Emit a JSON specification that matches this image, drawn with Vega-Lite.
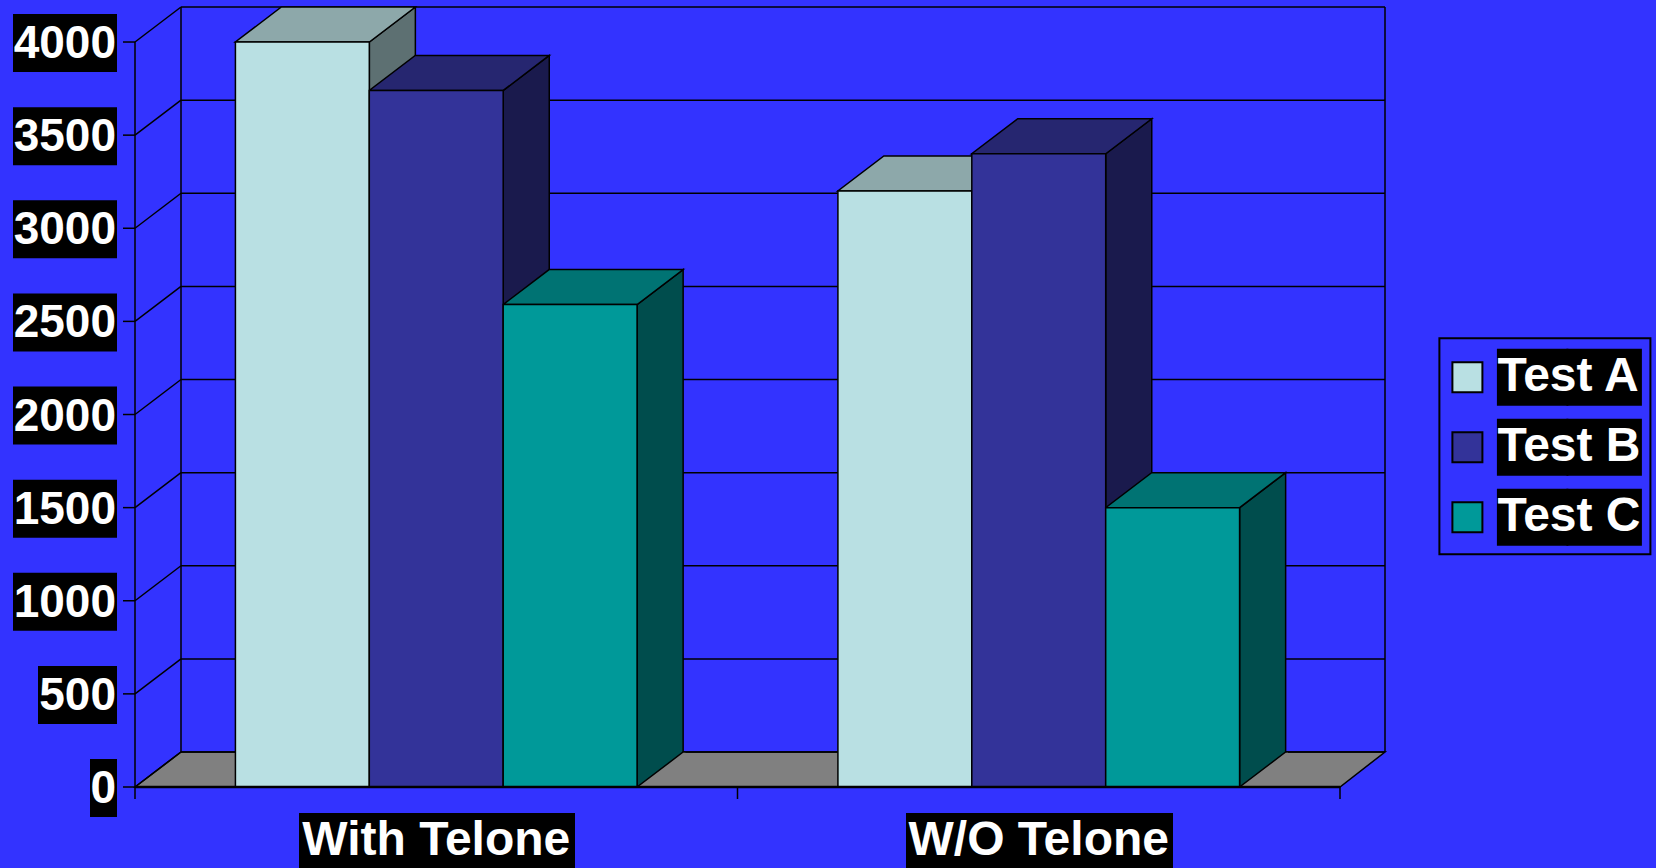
{
"$schema":"https://vega.github.io/schema/vega-lite/v6.json",
"background":"#3333FF",
"autosize":"none",
"padding":{"left":135,"top":7,"right":271,"bottom":81},
"width":1250,"height":780,
"config":{"view":{"stroke":null},"font":"Liberation Sans","legend":{"strokeWidth":2}},
"datasets":{
 "bars":[
  {"group":"With Telone","test":"Test A","value":4000},
  {"group":"With Telone","test":"Test B","value":3740},
  {"group":"With Telone","test":"Test C","value":2590},
  {"group":"W/O Telone","test":"Test A","value":3200},
  {"group":"W/O Telone","test":"Test B","value":3400},
  {"group":"W/O Telone","test":"Test C","value":1500}
 ],
 "ticks":[{"v":0},{"v":500},{"v":1000},{"v":1500},{"v":2000},{"v":2500},{"v":3000},{"v":3500},{"v":4000}]
},
"layer":[
 {"data":{"name":"ticks"},"transform":[{"filter":"datum.v == 0"}],
  "mark":{"type":"point","shape":"M0,0L46,-35L1250,-35L1205,0Z","size":4,"filled":true,"fill":"#808080","stroke":"black","strokeWidth":1.5,"opacity":1},
  "encoding":{
   "x":{"datum":"With Telone","bandPosition":0,"scale":{"domain":["With Telone","W/O Telone"],"range":[0,1205],"paddingInner":0,"paddingOuter":0},"axis":null},
   "y":{"field":"v","type":"quantitative","scale":{"domain":[0,4188],"nice":false,"zero":false},"axis":null}}},
 {"data":{"name":"ticks"},
  "mark":{"type":"rule","color":"black","strokeWidth":1.5,"xOffset":46,"x2Offset":45,"yOffset":-35},
  "encoding":{
   "x":{"datum":"With Telone","bandPosition":0,"scale":{"domain":["With Telone","W/O Telone"],"range":[0,1205],"paddingInner":0,"paddingOuter":0},"axis":null},
   "x2":{"datum":"W/O Telone","bandPosition":1},
   "y":{"field":"v","type":"quantitative","scale":{"domain":[0,4188],"nice":false,"zero":false},"axis":null}}},
 {"data":{"name":"ticks"},
  "mark":{"type":"rule","color":"black","strokeWidth":1.5,"x2Offset":46,"y2Offset":-35},
  "encoding":{
   "x":{"datum":"With Telone","bandPosition":0,"scale":{"domain":["With Telone","W/O Telone"],"range":[0,1205],"paddingInner":0,"paddingOuter":0},"axis":null},
   "x2":{"datum":"With Telone","bandPosition":0},
   "y":{"field":"v","type":"quantitative","scale":{"domain":[0,4188],"nice":false,"zero":false},"axis":null},
   "y2":{"field":"v"}}},
 {"data":{"name":"ticks"},"transform":[{"filter":"datum.v == 0"}],
  "mark":{"type":"rule","color":"black","strokeWidth":1.5,"xOffset":46,"yOffset":-35,"y2Offset":-35},
  "encoding":{
   "x":{"datum":"With Telone","bandPosition":0,"scale":{"domain":["With Telone","W/O Telone"],"range":[0,1205],"paddingInner":0,"paddingOuter":0},"axis":null},
   "y":{"field":"v","type":"quantitative","scale":{"domain":[0,4188],"nice":false,"zero":false},"axis":null},
   "y2":{"datum":4000}}},
 {"data":{"name":"ticks"},"transform":[{"filter":"datum.v == 0"}],
  "mark":{"type":"rule","color":"black","strokeWidth":1.5,"xOffset":45,"yOffset":-35,"y2Offset":-35},
  "encoding":{
   "x":{"datum":"W/O Telone","bandPosition":1,"scale":{"domain":["With Telone","W/O Telone"],"range":[0,1205],"paddingInner":0,"paddingOuter":0},"axis":null},
   "y":{"field":"v","type":"quantitative","scale":{"domain":[0,4188],"nice":false,"zero":false},"axis":null},
   "y2":{"datum":4000}}},
 {"data":{"name":"ticks"},"transform":[{"filter":"datum.v == 0"}],
  "mark":{"type":"rule","color":"black","strokeWidth":1.5},
  "encoding":{
   "x":{"datum":"With Telone","bandPosition":0,"scale":{"domain":["With Telone","W/O Telone"],"range":[0,1205],"paddingInner":0,"paddingOuter":0},"axis":null},
   "y":{"field":"v","type":"quantitative","scale":{"domain":[0,4188],"nice":false,"zero":false},"axis":null},
   "y2":{"datum":4000}}},
 {"data":{"name":"ticks"},
  "mark":{"type":"rule","color":"black","strokeWidth":1.5,"xOffset":-12},
  "encoding":{
   "x":{"datum":"With Telone","bandPosition":0,"scale":{"domain":["With Telone","W/O Telone"],"range":[0,1205],"paddingInner":0,"paddingOuter":0},"axis":null},
   "x2":{"datum":"With Telone","bandPosition":0},
   "y":{"field":"v","type":"quantitative","scale":{"domain":[0,4188],"nice":false,"zero":false},"axis":null}}},
 {"data":{"name":"bars"},
  "mark":{"type":"point","shape":"M67,0L113,-35L113,900L67,900Z","size":4,"filled":true,"stroke":"black","strokeWidth":1.5,"opacity":1,"clip":true},
  "encoding":{
   "x":{"field":"group","type":"nominal","scale":{"domain":["With Telone","W/O Telone"],"range":[0,1205],"paddingInner":0,"paddingOuter":0},"axis":null},
   "xOffset":{"field":"test","type":"nominal","scale":{"domain":["Test A","Test B","Test C"],"paddingInner":0,"paddingOuter":0.75}},
   "y":{"field":"value","type":"quantitative","scale":{"domain":[0,4188],"nice":false,"zero":false},"axis":null},
   "fill":{"field":"test","type":"nominal","scale":{"domain":["Test A","Test B","Test C"],"range":["#5D7072","#1A1A4D","#004D4D"]},"legend":null}}},
 {"data":{"name":"bars"},
  "mark":{"type":"point","shape":"M115,0L67,0L113,-35L115,-35","size":4,"filled":true,"fill":"#808080","stroke":"black","strokeWidth":1.5,"opacity":1},
  "encoding":{
   "x":{"field":"group","type":"nominal","scale":{"domain":["With Telone","W/O Telone"],"range":[0,1205],"paddingInner":0,"paddingOuter":0},"axis":null},
   "xOffset":{"field":"test","type":"nominal","scale":{"domain":["Test A","Test B","Test C"],"paddingInner":0,"paddingOuter":0.75}},
   "y":{"datum":0,"scale":{"domain":[0,4188],"nice":false,"zero":false},"axis":null}}},
 {"data":{"name":"bars"},
  "mark":{"type":"point","shape":"M-67,0L67,0L113,-35L-21,-35Z","size":4,"filled":true,"stroke":"black","strokeWidth":1.5,"opacity":1},
  "encoding":{
   "x":{"field":"group","type":"nominal","scale":{"domain":["With Telone","W/O Telone"],"range":[0,1205],"paddingInner":0,"paddingOuter":0},"axis":null},
   "xOffset":{"field":"test","type":"nominal","scale":{"domain":["Test A","Test B","Test C"],"paddingInner":0,"paddingOuter":0.75}},
   "y":{"field":"value","type":"quantitative","scale":{"domain":[0,4188],"nice":false,"zero":false},"axis":null},
   "fill":{"field":"test","type":"nominal","scale":{"domain":["Test A","Test B","Test C"],"range":["#8DA8AA","#262670","#007373"]},"legend":null}}},
 {"data":{"name":"bars"},
  "mark":{"type":"bar","stroke":"black","strokeWidth":1.5},
  "encoding":{
   "x":{"field":"group","type":"nominal","scale":{"domain":["With Telone","W/O Telone"],"range":[0,1205],"paddingInner":0,"paddingOuter":0},"axis":null},
   "xOffset":{"field":"test","type":"nominal","scale":{"domain":["Test A","Test B","Test C"],"paddingInner":0,"paddingOuter":0.75}},
   "y":{"field":"value","type":"quantitative","scale":{"domain":[0,4188],"nice":false,"zero":false},"axis":null},
   "color":{"field":"test","type":"nominal","scale":{"range":["#B9E0E3","#333399","#009999"]},
    "legend":{"orient":"none","legendX":1304.4,"legendY":331.3,"title":" ","titleFontSize":11,"titlePadding":0,"padding":4,"strokeColor":null,"symbolType":"M-1,-1H1V1H-1ZM6.667,-1.9V1.9","symbolSize":900,"symbolStrokeColor":"black","symbolStrokeWidth":2,"symbolOpacity":1,"labelExpr":"''","labelFont":"Liberation Sans","labelFontSize":48,"labelFontWeight":"bold","labelColor":"white","labelOffset":6,"rowPadding":4,"labelLimit":400}}}},
 {"data":{"name":"ticks"},"transform":[{"filter":"datum.v == 0"}],
  "mark":{"type":"rule","color":"black","strokeWidth":2.5},
  "encoding":{
   "x":{"datum":"With Telone","bandPosition":0,"scale":{"domain":["With Telone","W/O Telone"],"range":[0,1205],"paddingInner":0,"paddingOuter":0},"axis":null},
   "x2":{"datum":"W/O Telone","bandPosition":1},
   "y":{"field":"v","type":"quantitative","scale":{"domain":[0,4188],"nice":false,"zero":false},"axis":null}}},
 {"data":{"name":"bars"},"transform":[{"filter":"datum.test == 'Test A'"}],
  "mark":{"type":"rule","color":"black","strokeWidth":1.5,"y2Offset":12},
  "encoding":{
   "x":{"field":"group","type":"nominal","bandPosition":0,"scale":{"domain":["With Telone","W/O Telone"],"range":[0,1205],"paddingInner":0,"paddingOuter":0},"axis":null},
   "y":{"datum":0,"scale":{"domain":[0,4188],"nice":false,"zero":false},"axis":null},
   "y2":{"datum":0}}},
 {"data":{"name":"ticks"},"transform":[{"filter":"datum.v == 0"}],
  "mark":{"type":"rule","color":"black","strokeWidth":1.5,"y2Offset":12},
  "encoding":{
   "x":{"datum":"W/O Telone","bandPosition":1,"scale":{"domain":["With Telone","W/O Telone"],"range":[0,1205],"paddingInner":0,"paddingOuter":0},"axis":null},
   "y":{"field":"v","type":"quantitative","scale":{"domain":[0,4188],"nice":false,"zero":false},"axis":null},
   "y2":{"field":"v"}}},
 {"data":{"name":"ticks"},"transform":[{"filter":"datum.v >= 1000"}],
  "mark":{"type":"rect","color":"black","xOffset":-122,"x2Offset":-18,"yOffset":-28,"y2Offset":30},
  "encoding":{
   "x":{"datum":"With Telone","bandPosition":0,"scale":{"domain":["With Telone","W/O Telone"],"range":[0,1205],"paddingInner":0,"paddingOuter":0},"axis":null},
   "x2":{"datum":"With Telone","bandPosition":0},
   "y":{"field":"v","type":"quantitative","scale":{"domain":[0,4188],"nice":false,"zero":false},"axis":null},
   "y2":{"field":"v"}}},
 {"data":{"name":"ticks"},"transform":[{"filter":"datum.v == 500"}],
  "mark":{"type":"rect","color":"black","xOffset":-97,"x2Offset":-18,"yOffset":-28,"y2Offset":30},
  "encoding":{
   "x":{"datum":"With Telone","bandPosition":0,"scale":{"domain":["With Telone","W/O Telone"],"range":[0,1205],"paddingInner":0,"paddingOuter":0},"axis":null},
   "x2":{"datum":"With Telone","bandPosition":0},
   "y":{"field":"v","type":"quantitative","scale":{"domain":[0,4188],"nice":false,"zero":false},"axis":null},
   "y2":{"field":"v"}}},
 {"data":{"name":"ticks"},"transform":[{"filter":"datum.v == 0"}],
  "mark":{"type":"rect","color":"black","xOffset":-45,"x2Offset":-18,"yOffset":-28,"y2Offset":30},
  "encoding":{
   "x":{"datum":"With Telone","bandPosition":0,"scale":{"domain":["With Telone","W/O Telone"],"range":[0,1205],"paddingInner":0,"paddingOuter":0},"axis":null},
   "x2":{"datum":"With Telone","bandPosition":0},
   "y":{"field":"v","type":"quantitative","scale":{"domain":[0,4188],"nice":false,"zero":false},"axis":null},
   "y2":{"field":"v"}}},
 {"data":{"name":"ticks"},"transform":[{"filter":"datum.v == 0"}],
  "mark":{"type":"rect","color":"black","xOffset":164,"x2Offset":440,"yOffset":26,"y2Offset":84},
  "encoding":{
   "x":{"datum":"With Telone","bandPosition":0,"scale":{"domain":["With Telone","W/O Telone"],"range":[0,1205],"paddingInner":0,"paddingOuter":0},"axis":null},
   "x2":{"datum":"With Telone","bandPosition":0},
   "y":{"field":"v","type":"quantitative","scale":{"domain":[0,4188],"nice":false,"zero":false},"axis":null},
   "y2":{"field":"v"}}},
 {"data":{"name":"ticks"},"transform":[{"filter":"datum.v == 0"}],
  "mark":{"type":"rect","color":"black","xOffset":168.5,"x2Offset":435.5,"yOffset":26,"y2Offset":84},
  "encoding":{
   "x":{"datum":"W/O Telone","bandPosition":0,"scale":{"domain":["With Telone","W/O Telone"],"range":[0,1205],"paddingInner":0,"paddingOuter":0},"axis":null},
   "x2":{"datum":"W/O Telone","bandPosition":0},
   "y":{"field":"v","type":"quantitative","scale":{"domain":[0,4188],"nice":false,"zero":false},"axis":null},
   "y2":{"field":"v"}}},
 {"data":{"name":"ticks"},
  "mark":{"type":"text","align":"right","baseline":"middle","dx":-19,"dy":2,"color":"white","font":"Liberation Sans","fontSize":46,"fontWeight":"bold"},
  "encoding":{
   "x":{"datum":"With Telone","bandPosition":0,"scale":{"domain":["With Telone","W/O Telone"],"range":[0,1205],"paddingInner":0,"paddingOuter":0},"axis":null},
   "y":{"field":"v","type":"quantitative","scale":{"domain":[0,4188],"nice":false,"zero":false},"axis":null},
   "text":{"field":"v","type":"quantitative","format":"d"}}},
 {"data":{"name":"bars"},"transform":[{"filter":"datum.test == 'Test A'"}],
  "mark":{"type":"text","align":"center","baseline":"alphabetic","dy":68,"color":"white","font":"Liberation Sans","fontSize":48,"fontWeight":"bold"},
  "encoding":{
   "x":{"field":"group","type":"nominal","scale":{"domain":["With Telone","W/O Telone"],"range":[0,1205],"paddingInner":0,"paddingOuter":0},"axis":null},
   "y":{"datum":0,"scale":{"domain":[0,4188],"nice":false,"zero":false},"axis":null},
   "text":{"field":"group","type":"nominal"}}},
 {"data":{"name":"bars"},"transform":[{"filter":"false"}],
  "mark":{"type":"point","filled":true,"color":"black","opacity":1},
  "encoding":{
   "shape":{"field":"test","type":"nominal",
    "scale":{"domain":["Test A","Test B","Test C"],"range":["M1.967,-1.9H11.633V1.9H1.967Z","M1.967,-1.9H11.633V1.9H1.967Z","M1.967,-1.9H11.633V1.9H1.967Z"]},
    "legend":{"orient":"none","legendX":1304.4,"legendY":331.3,"title":" ","titleFontSize":11,"titlePadding":0,"padding":4,"strokeColor":"black","symbolSize":900,"symbolFillColor":"black","symbolStrokeColor":"black","symbolStrokeWidth":2,"symbolOpacity":1,"labelFont":"Liberation Sans","labelFontSize":48,"labelFontWeight":"bold","labelColor":"white","labelOffset":6,"rowPadding":4,"labelLimit":400}}}}
],
"resolve":{"scale":{"fill":"independent"}}
}
